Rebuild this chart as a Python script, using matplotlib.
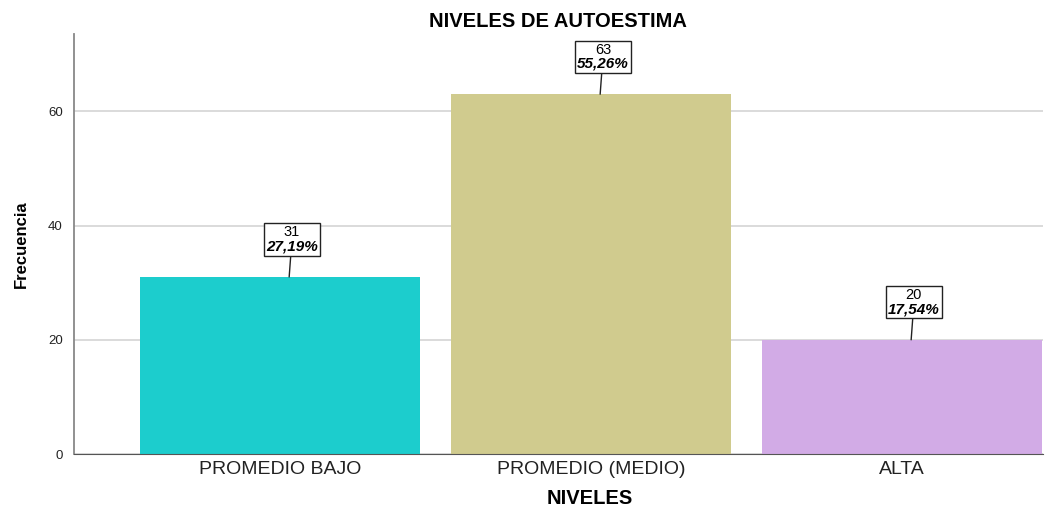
import numpy as np
import matplotlib
matplotlib.use('Agg')
import matplotlib.pyplot as plt
from matplotlib.offsetbox import TextArea, VPacker, AnnotationBbox

plt.rcParams['font.family'] = ['Liberation Sans', 'DejaVu Sans']

niveles = ['PROMEDIO BAJO', 'PROMEDIO (MEDIO)', 'ALTA']
frecuencia = [31, 63, 20]
porcentaje = ['27,19%', '55,26%', '17,54%']
colores = ['#1ccdcd', '#d0cb8e', '#d2abe6']

fig = plt.figure(figsize=(10.49, 5.11), dpi=100)
ax = fig.add_axes([0.0705, 0.1115, 0.9235, 0.8215])

x = np.arange(len(niveles))
ax.bar(x, frecuencia, width=0.9, color=colores, zorder=2)

ax.set_xlim(-0.662, 2.453)
ax.set_ylim(0, 73.5)
ax.set_yticks([0, 20, 40, 60])
ax.yaxis.grid(True, color='#d4d4d4', linewidth=1.2, zorder=0)
ax.set_axisbelow(True)

ax.set_xticks(x)
ax.set_xticklabels(niveles, fontsize=14, color='#222222')
ax.tick_params(axis='y', labelsize=9.5, length=0, pad=8, labelcolor='#222222')
ax.tick_params(axis='x', length=0, pad=5)

for side in ['top', 'right']:
    ax.spines[side].set_visible(False)
ax.spines['left'].set_color('#888888')
ax.spines['left'].set_linewidth(1.3)
ax.spines['bottom'].set_color('#555555')

ax.set_title('NIVELES DE AUTOESTIMA', fontsize=14.5, fontweight='bold', pad=5)
ax.set_xlabel('NIVELES', fontsize=14.5, fontweight='bold', labelpad=8, x=0.532)
ax.set_ylabel('Frecuencia', fontsize=12, fontweight='bold', labelpad=14)

# etiquetas con caja
for i, (n, p) in enumerate(zip(frecuencia, porcentaje)):
    t1 = TextArea(str(n), textprops=dict(fontsize=10.5))
    t2 = TextArea(p, textprops=dict(fontsize=11, fontweight='bold', fontstyle='italic'))
    box = VPacker(children=[t1, t2], align='center', pad=0, sep=0)
    ab = AnnotationBbox(box, (i + 0.03, n), xybox=(2, 27), xycoords='data',
                        boxcoords='offset points', frameon=True,
                        bboxprops=dict(boxstyle='square,pad=0.15', fc='white', ec='#222222', lw=1),
                        arrowprops=dict(arrowstyle='-', color='#222222', lw=1,
                                        shrinkA=0, shrinkB=0))
    ax.add_artist(ab)

fig.savefig('out.png', dpi=100)
